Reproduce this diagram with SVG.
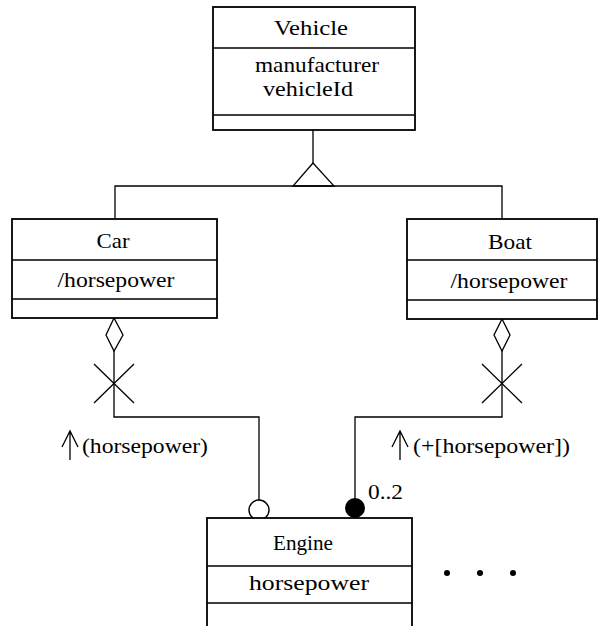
<svg xmlns="http://www.w3.org/2000/svg" width="599" height="626" viewBox="0 0 599 626">
<style>
.box{fill:#fff;stroke:#000;stroke-width:1.8}
.div{stroke:#000;stroke-width:1.6;fill:none}
.ln{stroke:#000;stroke-width:1.3;fill:none}
text{font-family:"Liberation Serif","Times New Roman",serif;font-size:22px;fill:#000}
.c{text-anchor:middle}
</style>
<rect width="599" height="626" fill="#fff"/>
<g id="connectors">
  <path class="ln" d="M313,130 V163"/>
  <path class="ln" d="M313,163 L293,186 L334,186 Z" fill="#fff"/>
  <path class="ln" d="M115,219 V186 H502 V219"/>
  <path class="ln" d="M114,318 L106,335 L114,351 L123,335 Z" fill="#fff"/>
  <path class="ln" d="M114,351 V417 H259 V500"/>
  <path class="ln" d="M94,364 L134,403 M134,364 L94,403"/>
  <circle cx="259" cy="510" r="10" fill="#fff" stroke="#000" stroke-width="1.4"/>
  <path class="ln" d="M502,319 L494,335 L502,351 L510,335 Z" fill="#fff"/>
  <path class="ln" d="M502,351 V417 H355 V500"/>
  <path class="ln" d="M482,364 L522,403 M522,364 L482,403"/>
  <circle cx="355" cy="508" r="10" fill="#000"/>
  <text x="368" y="499" textLength="35" lengthAdjust="spacingAndGlyphs">0..2</text>
  <g id="label1">
    <path class="ln" d="M70,431 V460 M62,447 L70,431 L78,447"/>
    <text x="82" y="453" textLength="126" lengthAdjust="spacingAndGlyphs">(horsepower)</text>
  </g>
  <g id="label2">
    <path class="ln" d="M400,431 V460 M392,447 L400,431 L408,447"/>
    <text x="413" y="453" textLength="157" lengthAdjust="spacingAndGlyphs">(+[horsepower])</text>
  </g>
</g>
<g id="Vehicle">
  <rect class="box" x="213" y="7" width="202" height="123"/>
  <path class="div" d="M213,48 H415 M213,115 H415"/>
  <text class="c" x="311" y="35" textLength="74" lengthAdjust="spacingAndGlyphs">Vehicle</text>
  <text x="255" y="72" textLength="124" lengthAdjust="spacingAndGlyphs">manufacturer</text>
  <text x="263" y="96" textLength="90" lengthAdjust="spacingAndGlyphs">vehicleId</text>
</g>
<g id="Car">
  <rect class="box" x="12" y="219" width="205" height="99"/>
  <path class="div" d="M12,260 H217 M12,299 H217"/>
  <text class="c" x="113" y="248" textLength="33" lengthAdjust="spacingAndGlyphs">Car</text>
  <text class="c" x="116" y="287" textLength="117" lengthAdjust="spacingAndGlyphs">/horsepower</text>
</g>
<g id="Boat">
  <rect class="box" x="407" y="219" width="190" height="100"/>
  <path class="div" d="M407,260 H597 M407,300 H597"/>
  <text class="c" x="510" y="249" textLength="44" lengthAdjust="spacingAndGlyphs">Boat</text>
  <text class="c" x="509" y="288" textLength="117" lengthAdjust="spacingAndGlyphs">/horsepower</text>
</g>
<g id="Engine">
  <rect class="box" x="207" y="518" width="205" height="110"/>
  <path class="div" d="M207,566 H412 M207,603 H412"/>
  <text class="c" x="303" y="550" textLength="60" lengthAdjust="spacingAndGlyphs">Engine</text>
  <text class="c" x="309" y="590" textLength="120" lengthAdjust="spacingAndGlyphs">horsepower</text>
</g>
<g id="ellipsis">
  <circle cx="447" cy="573" r="3"/>
  <circle cx="480" cy="573" r="3"/>
  <circle cx="513" cy="573" r="3"/>
</g>
</svg>
